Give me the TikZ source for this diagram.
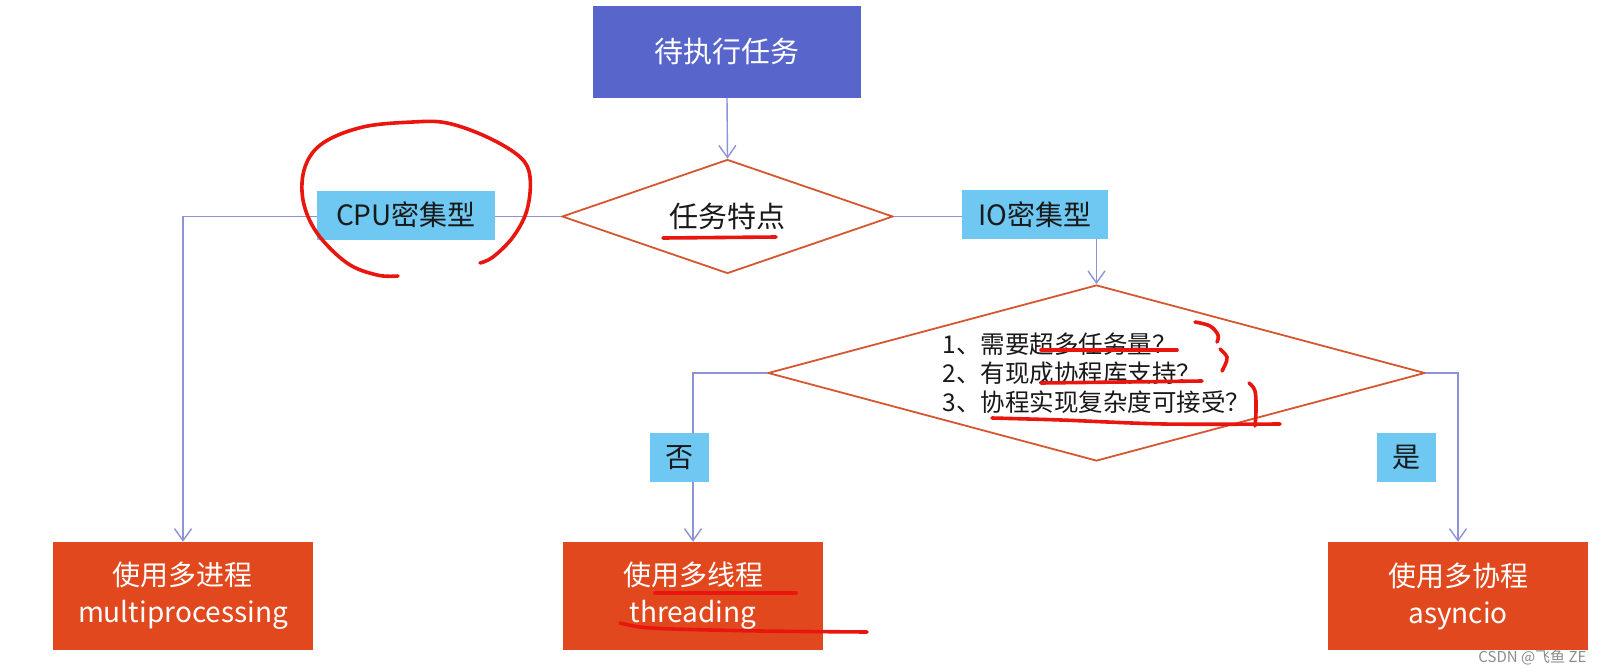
\documentclass[tikz,border=0pt]{standalone}
\usepackage{fontspec}
\setmainfont{Noto Sans CJK SC}
\usepackage{tikz}
\usetikzlibrary{shapes.geometric,arrows.meta,positioning}
\usepackage{xcolor}
\definecolor{taskblue}{RGB}{88,102,204}
\definecolor{tagblue}{RGB}{110,200,242}
\definecolor{resultred}{RGB}{226,72,30}
\definecolor{edgeorange}{RGB}{214,86,50}
\definecolor{linkviolet}{RGB}{140,147,214}
\definecolor{penred}{RGB}{232,22,14}
\newcommand{\pxfont}[2]{\fontsize{#1}{#2}\selectfont}

\begin{document}
\begin{tikzpicture}[x=1pt, y=-1pt,
  taskbox/.style={fill=taskblue, text=white, inner sep=0, minimum width=268pt, minimum height=92pt, font=\pxfont{29}{34}},
  decision/.style={diamond, draw=edgeorange, line width=1.8pt, fill=white, inner sep=0, text=black!90},
  tagbox/.style={fill=tagblue, inner sep=0, minimum height=49pt, text=black!90, font=\pxfont{28}{32}},
  resultbox/.style={fill=resultred, text=white, inner sep=0, minimum width=260pt, minimum height=108pt, align=center, font=\pxfont{28}{37}},
  link/.style={linkviolet, line width=1.4pt, -{Straight Barb[length=12pt, width=17pt]}},
  redpen/.style={penred, line width=3.6pt, line cap=round, line join=round}]
\path[use as bounding box, fill=white] (0,0) rectangle (1604,672);

% Task and first decision
\node[taskbox] (task) at (727,52) {待执行任务};
\node[decision, shape aspect=2.9, minimum width=331pt, minimum height=114pt, font=\pxfont{29}{34}] (feature) at (727.5,216.5) {任务特点};

% Second decision
\node[decision, shape aspect=3.73, minimum width=657pt, minimum height=176pt, align=left, font=\pxfont{24.5}{29}] (check) at (1096.5,373)
  {1、需要超多任务量？\\2、有现成协程库支持？\\3、协程实现复杂度可接受？};

% Results
\node[resultbox] (multi) at (183,596) {使用多进程\\multiprocessing};
\node[resultbox] (thread) at (693,596) {使用多线程\\threading};
\node[resultbox] (async) at (1458,596) {使用多协程\\asyncio};

% Connectors
\draw[link] (task.south) -- (feature.north);
\draw[link] (feature.west) -| (multi.north);
\draw[link] (feature.east) -| (check.north);
\draw[link] (check.west) -| (thread.north);
\draw[link] (check.east) -| (async.north);

% Tags on the branches
\node[tagbox, minimum width=178pt] (cpu) at (406,215) {CPU密集型};
\node[tagbox, minimum width=146pt] (io) at (1035,214.5) {IO密集型};
\node[tagbox, minimum width=59pt] (no) at (679.5,457.5) {否};
\node[tagbox, minimum width=59pt] (yes) at (1406.5,457.5) {是};

% Hand marks
\draw[redpen] plot[smooth, tension=0.6] coordinates {(398,276) (377,275) (347,263) (317,233) (303,200) (305,167) (323,143) (363,127) (413,122) (447,123) (487,137) (520,157) (530,177) (527,210) (513,237) (493,257) (480,263)};
\draw[redpen] (663,238) -- (776,237);
\draw[redpen] (1041,350) -- (1177,350);
\draw[redpen] (1041,383) -- (1202,381);
\draw[redpen] plot[smooth, tension=0.5] coordinates {(992,418) (1061,420) (1164,424) (1280,424)};
\draw[redpen] plot[smooth, tension=0.6] coordinates {(1249,383) (1255,391) (1256,410) (1255,426)};
\draw[redpen] plot[smooth, tension=0.6] coordinates {(1195,322) (1210,326) (1218,335) (1217,342)};
\draw[redpen] plot[smooth, tension=0.6] coordinates {(1220,349) (1227,357) (1225,365) (1222,371)};
\draw[redpen] (655,593) -- (796,593);
\draw[redpen] plot[smooth, tension=0.5] coordinates {(620,623) (640,627) (673,629) (760,631) (867,632)};

% Watermark
\node[anchor=east, text=black!45, font=\pxfont{15}{18}] (mark) at (1590,657) {CSDN @飞鱼 ZE};
\end{tikzpicture}
\end{document}
